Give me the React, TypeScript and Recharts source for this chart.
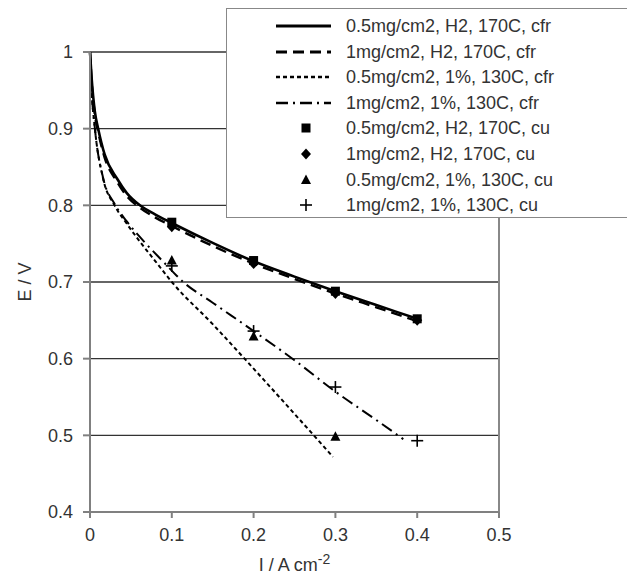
import {
  ComposedChart,
  Line,
  Scatter,
  XAxis,
  YAxis,
  CartesianGrid,
  ReferenceLine,
  Legend,
  Label,
} from 'recharts';

// current density (A cm-2) and cell voltage (V)
const h2I = [0, 0.002, 0.006, 0.01, 0.018, 0.033, 0.045, 0.061, 0.08, 0.1, 0.15, 0.2, 0.25, 0.3, 0.35, 0.4];
const h2LowE = [1.0, 0.966, 0.922, 0.9, 0.866, 0.835, 0.816, 0.8, 0.788, 0.777, 0.751, 0.727, 0.707, 0.688, 0.67, 0.652];
const h2HighE = [1.0, 0.962, 0.918, 0.896, 0.862, 0.831, 0.812, 0.797, 0.784, 0.773, 0.747, 0.724, 0.704, 0.685, 0.667, 0.649];

const coLowI = [0, 0.002, 0.006, 0.016, 0.03, 0.045, 0.06, 0.08, 0.1, 0.15, 0.2, 0.25, 0.297];
const coLowE = [1.0, 0.95, 0.9, 0.835, 0.8, 0.776, 0.754, 0.727, 0.7, 0.645, 0.587, 0.528, 0.472];

const coHighI = [0, 0.002, 0.006, 0.016, 0.03, 0.045, 0.065, 0.09, 0.114, 0.15, 0.2, 0.25, 0.3, 0.35, 0.383];
const coHighE = [1.0, 0.95, 0.9, 0.836, 0.802, 0.779, 0.754, 0.726, 0.7, 0.673, 0.636, 0.598, 0.557, 0.52, 0.495];

const cuI = [0.1, 0.2, 0.3, 0.4];
const cuH2LowE = [0.778, 0.728, 0.688, 0.652];
const cuH2HighE = [0.772, 0.724, 0.685, 0.65];
const cuCoLowE = [0.728, 0.629, 0.498];
const cuCoHighE = [0.721, 0.636, 0.563, 0.493];

const xTicks = [0, 0.1, 0.2, 0.3, 0.4, 0.5];
const yTicks = [0.4, 0.5, 0.6, 0.7, 0.8, 0.9, 1];

const seriesNames = [
  '0.5mg/cm2, H2, 170C, cfr',
  '1mg/cm2, H2, 170C, cfr',
  '0.5mg/cm2, 1%, 130C, cfr',
  '1mg/cm2, 1%, 130C, cfr',
  '0.5mg/cm2, H2, 170C, cu',
  '1mg/cm2, H2, 170C, cu',
  '0.5mg/cm2, 1%, 130C, cu',
  '1mg/cm2, 1%, 130C, cu',
];

const toPoints = (xs: number[], ys: number[]) => ys.map((e, k) => ({ i: xs[k], e }));

const FONT = '"Liberation Sans", Arial, sans-serif';
const TEXT = '#333';

const lineStyles = [
  { dash: undefined, width: 2.6 },
  { dash: '11 6', width: 2.4 },
  { dash: '4 3', width: 2 },
  { dash: '12 5 2 5', width: 2 },
];

type MarkerKind = 'square' | 'diamond' | 'triangle' | 'plus';
const markerKinds: MarkerKind[] = ['square', 'diamond', 'triangle', 'plus'];

function Marker({ kind, cx, cy }: { kind: MarkerKind; cx: number; cy: number }) {
  if (kind === 'square') return <rect x={cx - 4.5} y={cy - 4.5} width={9} height={9} fill="#000" />;
  if (kind === 'diamond')
    return <polygon points={`${cx},${cy - 5.5} ${cx + 5},${cy} ${cx},${cy + 5.5} ${cx - 5},${cy}`} fill="#000" />;
  if (kind === 'triangle')
    return <polygon points={`${cx},${cy - 5.5} ${cx + 5},${cy + 4} ${cx - 5},${cy + 4}`} fill="#000" />;
  return (
    <g stroke="#000" strokeWidth={1.6}>
      <line x1={cx - 6} y1={cy} x2={cx + 6} y2={cy} />
      <line x1={cx} y1={cy - 6} x2={cx} y2={cy + 6} />
    </g>
  );
}

function LegendBox() {
  return (
    <div
      style={{
        width: 406,
        height: 210,
        boxSizing: 'border-box',
        border: '1.5px solid #888',
        background: '#fff',
        position: 'relative',
        fontFamily: FONT,
        fontSize: 18,
        color: TEXT,
      }}
    >
      {seriesNames.map((name, k) => (
        <div key={name} style={{ position: 'absolute', top: 4 + k * 25.6, left: 0, height: 25.6, width: '100%' }}>
          <svg width={60} height={26} style={{ position: 'absolute', left: 47, top: 0 }}>
            {k < 4 ? (
              <line
                x1={2}
                y1={13}
                x2={57}
                y2={13}
                stroke="#000"
                strokeWidth={lineStyles[k].width + 0.4}
                strokeDasharray={lineStyles[k].dash}
              />
            ) : (
              <Marker kind={markerKinds[k - 4]} cx={32} cy={13} />
            )}
          </svg>
          <span style={{ position: 'absolute', left: 119, top: 2, lineHeight: '22px', whiteSpace: 'nowrap' }}>
            {name}
          </span>
        </div>
      ))}
    </div>
  );
}

const lineSeries = [
  toPoints(h2I, h2LowE),
  toPoints(h2I, h2HighE),
  toPoints(coLowI, coLowE),
  toPoints(coHighI, coHighE),
];
const cuSeries = [
  toPoints(cuI, cuH2LowE),
  toPoints(cuI, cuH2HighE),
  toPoints(cuI, cuCoLowE),
  toPoints(cuI, cuCoHighE),
];

export default function App() {
  return (
    <div style={{ width: 627, height: 567 }}>
      <ComposedChart width={627} height={567} margin={{ top: 44, right: 136, left: 22, bottom: 13 }}>
        <CartesianGrid vertical={false} stroke="#333" strokeWidth={1.3} />
        <XAxis
          type="number"
          dataKey="i"
          domain={[0, 0.5]}
          ticks={xTicks}
          height={50}
          tickSize={6}
          tickMargin={10}
          stroke="#808080"
          strokeWidth={2}
          tick={{ fill: TEXT, fontSize: 18, fontFamily: FONT }}
        >
          <Label
            content={({ viewBox }: any) => (
              <text
                x={viewBox.x + viewBox.width / 2}
                y={viewBox.y + 59}
                textAnchor="middle"
                fill={TEXT}
                fontSize={18}
                fontFamily={FONT}
              >
                <tspan>I / A cm</tspan>
                <tspan dy={-7} fontSize={14}>
                  -2
                </tspan>
              </text>
            )}
          />
        </XAxis>
        <YAxis
          type="number"
          domain={[0.4, 1]}
          ticks={yTicks}
          width={60}
          tickSize={7}
          tickMargin={10}
          stroke="#808080"
          strokeWidth={2}
          tickFormatter={(v: number) => String(v)}
          tick={{ fill: TEXT, fontSize: 18, fontFamily: FONT }}
        >
          <Label
            content={({ viewBox }: any) => {
              const x = viewBox.x - 5;
              const y = viewBox.y + viewBox.height / 2;
              return (
                <text
                  x={x}
                  y={y}
                  transform={`rotate(-90 ${x} ${y})`}
                  textAnchor="middle"
                  dominantBaseline="central"
                  fill={TEXT}
                  fontSize={18}
                  fontFamily={FONT}
                >
                  E / V
                </text>
              );
            }}
          />
        </YAxis>
        <ReferenceLine x={0.5} stroke="#888" strokeWidth={2} />
        {lineSeries.map((pts, k) => (
          <Line
            key={seriesNames[k]}
            data={pts}
            dataKey="e"
            name={seriesNames[k]}
            type="monotone"
            stroke="#000"
            strokeWidth={lineStyles[k].width}
            strokeDasharray={lineStyles[k].dash}
            dot={false}
            activeDot={false}
            isAnimationActive={false}
          />
        ))}
        {cuSeries.map((pts, k) => (
          <Scatter
            key={seriesNames[k + 4]}
            data={pts}
            dataKey="e"
            name={seriesNames[k + 4]}
            isAnimationActive={false}
            shape={(p: any) => <Marker kind={markerKinds[k]} cx={p.cx} cy={p.cy} />}
          />
        ))}
        <Legend
          layout="vertical"
          align="center"
          verticalAlign="middle"
          wrapperStyle={{ left: 218, top: 0, width: 406, height: 210 }}
          content={() => <LegendBox />}
        />
      </ComposedChart>
    </div>
  );
}
